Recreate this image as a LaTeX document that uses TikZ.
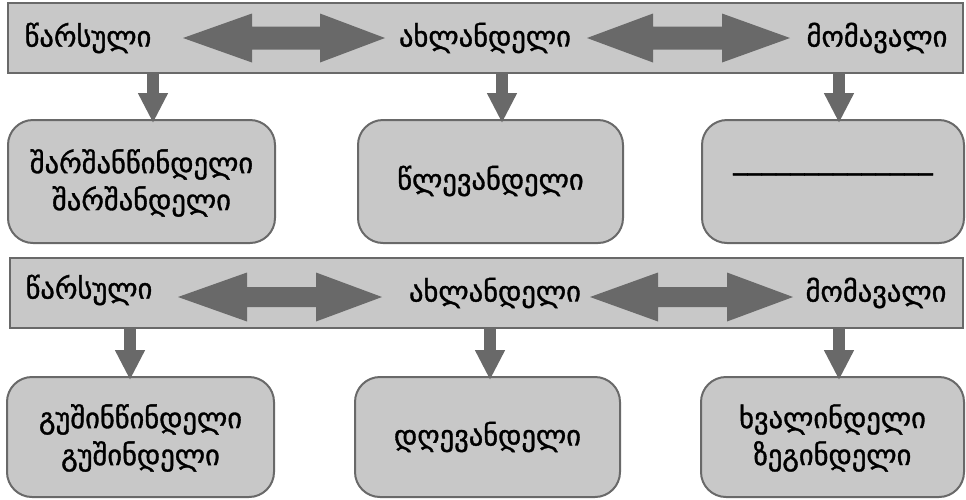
\documentclass[tikz,border=0pt]{standalone}
\usepackage{fontspec}
\newfontfamily\geo[FakeBold=1.2]{DejaVu Sans}
\usetikzlibrary{arrows.meta}
\definecolor{boxfill}{RGB}{200,200,200}
\definecolor{boxline}{RGB}{105,105,105}
\tikzset{
  bar/.style={draw=boxline, line width=2pt, fill=boxfill, minimum width=955pt, minimum height=70pt, inner sep=0pt},
  rbox/.style={draw=boxline, line width=2pt, fill=boxfill, rounded corners=25pt, inner sep=0pt},
  lbl/.style={font=\geo\fontsize{28.5}{37}\selectfont, inner sep=0pt, align=center, text=black},
  downarr/.style={draw=boxline, line width=12pt, -{Triangle[length=30pt,width=28pt]}, shorten >=-4pt},
  dblfill/.style={fill=boxline, draw=none}
}
\newcommand{\dblarr}[6]{% x1 x2 x3 x4 yc shafthalf
  \fill[boxline] (#1,#5) -- (#2,#5-24.5) -- (#2,#5-#6) -- (#3,#5-#6) -- (#3,#5-24.5) -- (#4,#5)
    -- (#3,#5+24.5) -- (#3,#5+#6) -- (#2,#5+#6) -- (#2,#5+24.5) -- cycle;}
\begin{document}
\begin{tikzpicture}[x=1pt,y=-1pt]
\useasboundingbox (0,0) rectangle (966,499);
% row 1
\node[bar] (bar1) at (485.5,38) {};
\node[lbl] (p1) at (88,38) {წარსული};
\node[lbl] (n1) at (485,38) {ახლანდელი};
\node[lbl] (f1) at (877,38) {მომავალი};
\dblarr{183}{252}{320}{385}{38}{11.5}
\dblarr{587}{653}{722}{790}{38}{11.5}
\node[rbox, minimum width=267pt, minimum height=123pt] (b11) at (141.5,181.5) {};
\node[rbox, minimum width=265pt, minimum height=123pt] (b12) at (490.5,181.5) {};
\node[rbox, minimum width=262pt, minimum height=123pt] (b13) at (833,181.5) {};
\node[lbl] (t11) at (141.5,183) {შარშანწინდელი\\შარშანდელი};
\node[lbl] (t12) at (490.5,181) {წლევანდელი};
\node[lbl] (t13) at (833,172) {\_\_\_\_\_\_\_\_\_\_\_\_\_\_};
\coordinate (d11) at (153,72);
\coordinate (d12) at (502,72);
\coordinate (d13) at (839,72);
\draw[downarr] (d11) -- (d11 |- b11.north);
\draw[downarr] (d12) -- (d12 |- b12.north);
\draw[downarr] (d13) -- (d13 |- b13.north);
% row 2
\node[bar, minimum width=953pt] (bar2) at (486.5,293) {};
\node[lbl] (p2) at (89,290) {წარსული};
\node[lbl] (n2) at (495,293) {ახლანდელი};
\node[lbl] (f2) at (876,293) {მომავალი};
\dblarr{178}{247}{316}{382}{297}{10}
\dblarr{590}{658}{727}{793}{297}{10}
\node[rbox, minimum width=267pt, minimum height=120pt] (b21) at (140.5,437) {};
\node[rbox, minimum width=265pt, minimum height=120pt] (b22) at (487.5,437) {};
\node[rbox, minimum width=263pt, minimum height=120pt] (b23) at (832.5,437) {};
\node[lbl] (t21) at (140.5,438) {გუშინწინდელი\\გუშინდელი};
\node[lbl] (t22) at (487.5,437) {დღევანდელი};
\node[lbl] (t23) at (832.5,438) {ხვალინდელი\\ზეგინდელი};
\coordinate (d21) at (130,327);
\coordinate (d22) at (490,327);
\coordinate (d23) at (839,327);
\draw[downarr] (d21) -- (d21 |- b21.north);
\draw[downarr] (d22) -- (d22 |- b22.north);
\draw[downarr] (d23) -- (d23 |- b23.north);
\end{tikzpicture}
\end{document}
